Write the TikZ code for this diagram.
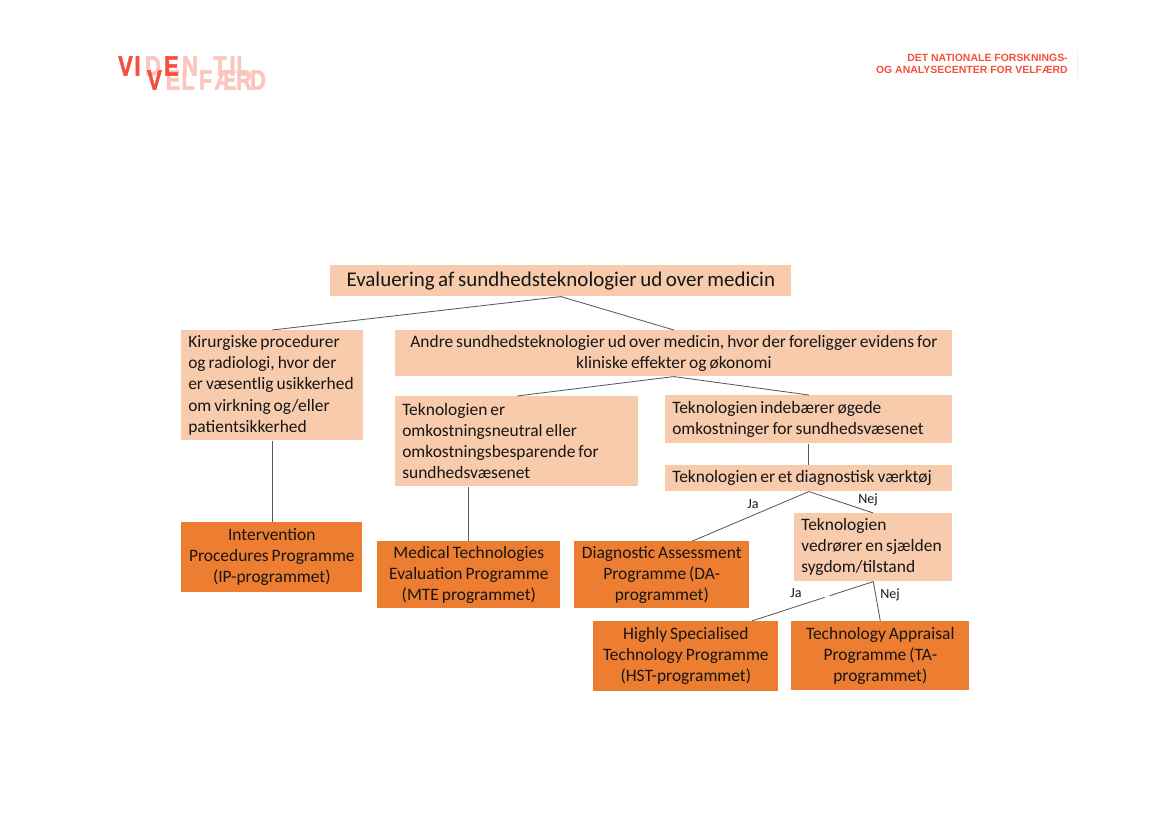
\documentclass[tikz,border=0pt]{standalone}
\usepackage{fontspec}
\setmainfont{Carlito}
\newfontfamily\headfont{Liberation Sans}
\newfontfamily\logofont[BoldFeatures={FakeBold=2}]{Liberation Sans}
\usetikzlibrary{calc}
\definecolor{boxlight}{HTML}{F8CBAD}
\definecolor{boxdark}{HTML}{ED7D31}
\definecolor{wire}{HTML}{595959}
\definecolor{ink}{HTML}{161616}
\definecolor{brand}{HTML}{F4503C}
\definecolor{brandpale}{HTML}{FBC4BC}
\definecolor{rulepale}{HTML}{F0EEF4}
\newcommand{\bodyfs}{\fontsize{12.4}{15}\selectfont}
\newcommand{\topfs}{\fontsize{14.9}{17}\selectfont}
\begin{document}
\begin{tikzpicture}[x=0.025cm,y=-0.025cm,
                    lt/.style={fill=boxlight,text=ink,anchor=north west,align=left,inner ysep=0pt,inner xsep=0.175cm,font=\bodyfs,
                               execute at begin node={\spaceskip=0.17em\relax}},
                    dk/.style={lt,fill=boxdark,align=center},
                    conn/.style={draw=wire,line width=0.6pt},
                    ans/.style={font=\fontsize{10}{11}\selectfont,text=ink},
                    logo/.style={font=\logofont\bfseries\fontsize{20}{20}\selectfont,inner sep=0pt}]
  \useasboundingbox (0,0) rectangle (1169,827);
  % header
  \foreach \ch/\x/\y/\c in {D/153/66/brandpale,N/190/66/brandpale,T/220/66/brandpale,I/232.5/66/brandpale,L/243/66/brandpale,
                            E/173/80/brandpale,L/188/80/brandpale,F/205.5/80/brandpale,Æ/225.5/80/brandpale,R/244/80/brandpale,D/258/80/brandpale,
                            V/125.5/66/brand,I/137.5/66/brand,E/171.5/66/brand,V/154.5/80/brand} {
    \node[logo,text=\c] at (\x,\y) {\scalebox{0.78}[1]{\ch}};
  }
  \node[font=\headfont\bfseries\fontsize{7.45}{8.9}\selectfont,text=brand,align=right,anchor=east,inner sep=0pt] (addr) at (1068,64) {DET NATIONALE FORSKNINGS-\\OG ANALYSECENTER FOR VELFÆRD};
  \draw[rulepale,line width=0.5pt] (1077,52) -- (1077,77);
  % boxes
  \node[lt,text width=11.175cm,minimum height=0.775cm,align=center,font=\topfs] (top) at (330,265) {Evaluering af sundhedsteknologier ud over medicin};
  \node[lt,text width=4.2cm,minimum height=2.75cm] (kir) at (181,330) {Kirurgiske procedurer\\og radiologi, hvor der\\er væsentlig usikkerhed\\om virkning og/eller\\patientsikkerhed};
  \node[lt,text width=13.575cm,minimum height=1.15cm,align=center] (andre) at (395,330) {Andre sundhedsteknologier ud over medicin, hvor der foreligger evidens for\\kliniske effekter og økonomi};
  \node[lt,text width=5.725cm,minimum height=2.25cm] (neutral) at (395,396) {Teknologien er\\omkostningsneutral eller\\omkostningsbesparende for\\sundhedsvæsenet};
  \node[lt,text width=6.825cm,minimum height=1.2cm] (oget) at (665,395) {Teknologien indebærer øgede\\omkostninger for sundhedsvæsenet};
  \node[lt,text width=6.825cm,minimum height=0.65cm] (diag) at (665,465) {Teknologien er et diagnostisk værktøj};
  \node[lt,text width=3.6cm,minimum height=1.7cm] (rare) at (794,513) {Teknologien\\vedrører en sjælden\\sygdom/tilstand};
  \node[dk,text width=4.175cm,minimum height=1.75cm] (ip) at (181,522) {Intervention\\Procedures Programme\\(IP-programmet)};
  \node[dk,text width=4.225cm,minimum height=1.675cm] (mte) at (377,541) {Medical Technologies\\Evaluation Programme\\(MTE programmet)};
  \node[dk,text width=4.025cm,minimum height=1.675cm] (da) at (574,541) {Diagnostic Assessment\\Programme (DA-\\programmet)};
  \node[dk,text width=4.275cm,minimum height=1.75cm] (hst) at (593,621) {Highly Specialised\\Technology Programme\\(HST-programmet)};
  \node[dk,text width=4.1cm,minimum height=1.725cm] (ta) at (791,621) {Technology Appraisal\\Programme (TA-\\programmet)};
  % connectors
  \draw[conn] (top.south) -- (kir.north);
  \draw[conn] (top.south) -- (andre.north);
  \draw[conn] (kir.south) -- (kir.south |- ip.north);
  \draw[conn] (andre.south) -- (neutral.north);
  \draw[conn] (andre.south) -- (oget.north);
  \draw[conn] (mte.north) -- (mte.north |- neutral.south);
  \draw[conn] (oget.south) -- (diag.north);
  \draw[conn] (diag.south) -- ($(da.north west)!0.675!(da.north east)$);
  \draw[conn] (diag.south) -- (rare.north);
  \draw[conn] (rare.south) -- ($(hst.north west)!0.855!(hst.north east)$);
  \draw[conn] (rare.south) -- (ta.north);
  \draw[white,line width=1.5pt] ($(rare.south)!0.36!($(hst.north west)!0.855!(hst.north east)$)$) -- ($(rare.south)!0.40!($(hst.north west)!0.855!(hst.north east)$)$);
  % answers
  \node[ans] (ja1) at (753,504) {Ja};
  \node[ans] (nej1) at (868,500) {Nej};
  \node[ans] (ja2) at (796,593) {Ja};
  \node[ans] (nej2) at (890,595) {Nej};
\end{tikzpicture}
\end{document}
